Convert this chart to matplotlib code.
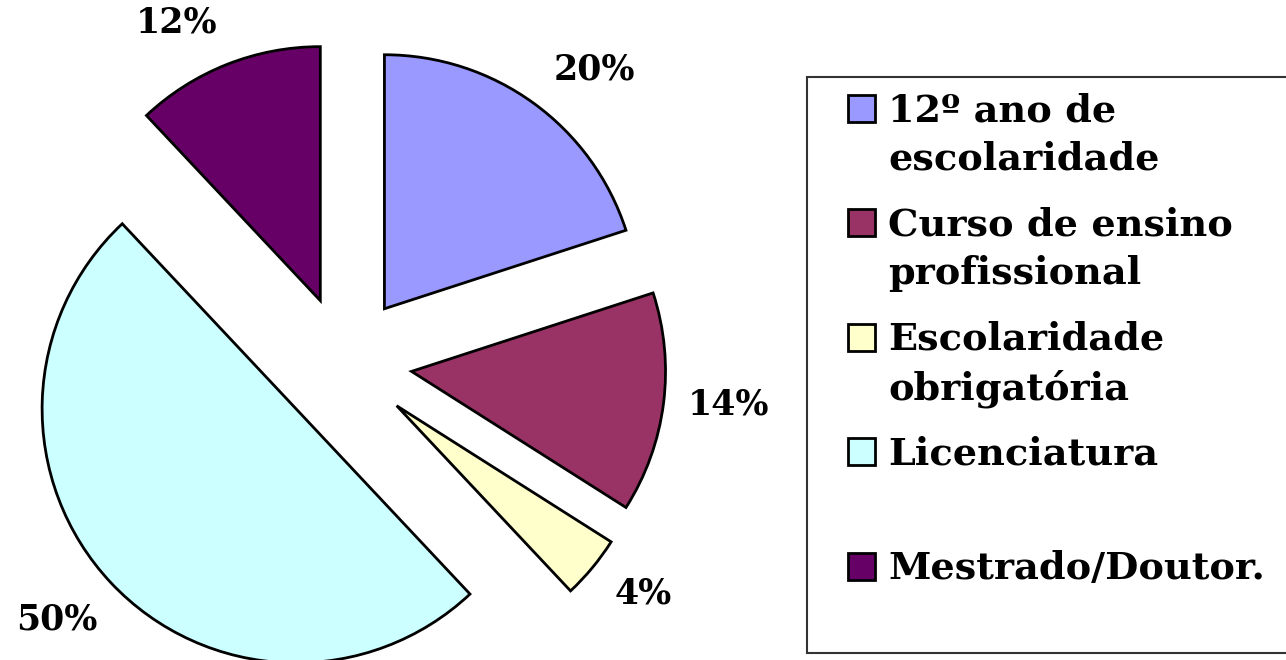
import matplotlib
matplotlib.use("Agg")
import matplotlib.pyplot as plt
from matplotlib.patches import Rectangle

# Data
categories = ["12º ano de\nescolaridade", "Curso de ensino\nprofissional",
              "Escolaridade\nobrigatória", "Licenciatura", "Mestrado/Doutor."]
values = [20, 14, 4, 50, 12]
colors = ["#9999FF", "#993366", "#FFFFCC", "#CCFFFF", "#660066"]

# per-label nudges of the percentage texts (pixels, x right / y up)
label_nudge = [(23, -18), (2, 7), (2, 15), (-8, 7), (-27, -17)]

W, H = 1286, 660
fig = plt.figure(figsize=(W / 100, H / 100), dpi=100)
ax = fig.add_axes([0, 0, 1, 1])

radius = 254
center = (345, H - 363)
explode = [0.264 * radius] * len(values)

wedges, texts, autotexts = ax.pie(
    values, colors=colors, explode=explode, startangle=90, counterclock=False,
    radius=radius, center=center, autopct="%1.0f%%", pctdistance=1.25,
    wedgeprops=dict(edgecolor="black", linewidth=2),
    textprops=dict(family="DejaVu Serif", fontweight="bold", fontsize=25, color="black"),
)
for t, (dx, dy) in zip(autotexts, label_nudge):
    x, y = t.get_position()
    t.set_position((x + dx, y + dy))

ax.set_xlim(0, W)
ax.set_ylim(0, H)
ax.set_aspect("auto")
ax.axis("off")

# Legend (manual layout to match reference)
box = Rectangle((807, H - 653), 600, 653 - 77, facecolor="white",
                edgecolor="#333333", linewidth=1.5, zorder=1)
ax.add_patch(box)
y0, step = 108, 114.5
for i, (lab, col) in enumerate(zip(categories, colors)):
    yc = y0 + i * step
    ax.add_patch(Rectangle((848, H - (yc + 13.5)), 27, 27, facecolor=col,
                           edgecolor="black", linewidth=2, zorder=3))
    ax.text(888, H - (yc - 16), lab, ha="left", va="top",
            family="DejaVu Serif", fontweight="bold", fontsize=27.5,
            linespacing=1.4, zorder=3)

fig.savefig("out.png", dpi=100)
